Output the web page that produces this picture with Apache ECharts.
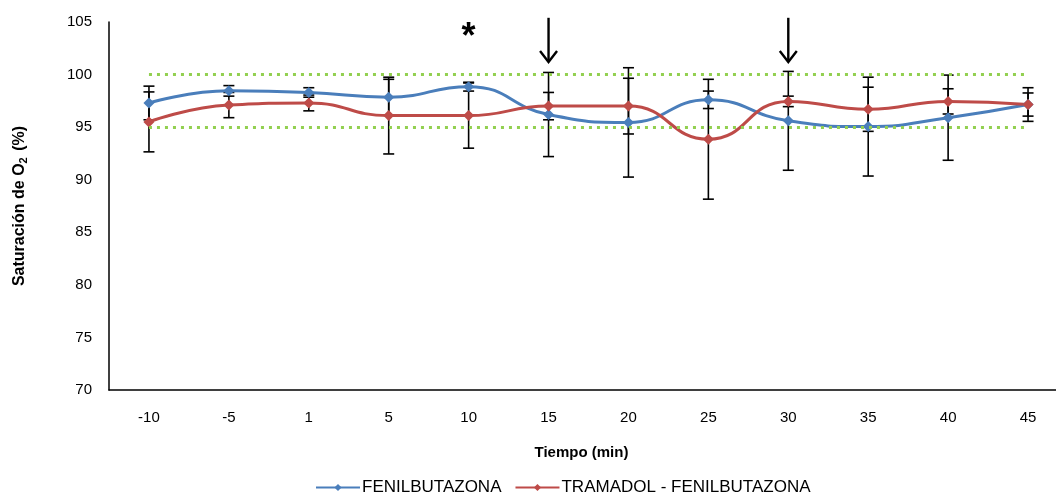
<!DOCTYPE html>
<html>
<head>
<meta charset="utf-8">
<script src="https://cdn.jsdelivr.net/npm/echarts@6/dist/echarts.min.js"></script>
<style>
  html, body { margin: 0; padding: 0; background: #fff; }
  #chart { width: 1056px; height: 502px; }
</style>
</head>
<body>
<div id="chart"></div>
<script>
// tiempo (min)
var categories = ["-10", "-5", "1", "5", "10", "15", "20", "25", "30", "35", "40", "45"];

// saturacion O2 (%) and standard deviations
var fenil = [97.3, 98.45, 98.3, 97.85, 98.85, 96.2, 95.45, 97.6, 95.6, 95.05, 95.9, 97.15];
var fenilSd = [1.6, 0.5, 0.45, 1.7, 0.42, 4.0, 5.2, 0.83, 4.7, 4.7, 4.05, 1.1];
var tramadol = [95.5, 97.1, 97.3, 96.1, 96.1, 97.0, 97.0, 93.85, 97.45, 96.7, 97.45, 97.15];
var tramadolSd = [2.85, 1.2, 0.75, 3.65, 3.1, 1.3, 2.65, 5.7, 0.5, 2.1, 1.2, 1.6];

// normal range limits (green dotted lines)
var refLines = [95, 100];

// annotations
var arrowTimes = ["15", "30"];
var arrowFrom = 105.4;
var arrowTo = 101.2;
var starTimes = ["10"];
var starLevel = 103.5;

var yTicks = { min: 70, max: 105, interval: 5 };

var blue = "#4a7ebb";
var red = "#be4b48";
var font = "Liberation Sans, Arial, sans-serif";

function errData(vals, sds) {
  return vals.map(function (v, i) {
    return [i, v - sds[i], v + sds[i]];
  });
}

function renderErr(params, api) {
  var lo = api.coord([api.value(0), api.value(1)]);
  var hi = api.coord([api.value(0), api.value(2)]);
  var w = 5.5;
  var style = { stroke: "#000", lineWidth: 1.6, fill: null };
  return {
    type: "group",
    children: [
      { type: "line", shape: { x1: lo[0], y1: lo[1], x2: hi[0], y2: hi[1] }, style: style },
      { type: "line", shape: { x1: lo[0] - w, y1: lo[1], x2: lo[0] + w, y2: lo[1] }, style: style },
      { type: "line", shape: { x1: hi[0] - w, y1: hi[1], x2: hi[0] + w, y2: hi[1] }, style: style },
    ],
  };
}

function refMark(v) {
  return [{ coord: [categories[0], v] }, { coord: [categories[categories.length - 1], v] }];
}

var myChart = echarts.init(document.getElementById("chart"));

var option = {
  animation: false,
  textStyle: { fontFamily: font },
  grid: {
    left: 109,
    top: 22,
    width: 959,
    height: 368,
    outerBoundsMode: "none",
  },
  legend: {
    bottom: 1,
    left: 310,
    itemWidth: 44,
    itemHeight: 9,
    itemGap: 13,
    data: ["FENILBUTAZONA", "TRAMADOL - FENILBUTAZONA"],
    textStyle: { fontSize: 17, color: "#000", padding: [0, 0, 0, -3] },
  },
  xAxis: {
    type: "category",
    data: categories,
    boundaryGap: true,
    axisLine: { lineStyle: { color: "#000", width: 1.5 } },
    axisTick: { show: false },
    axisLabel: { color: "#000", fontSize: 15, margin: 20 },
    name: "Tiempo (min)",
    nameLocation: "middle",
    nameGap: 55,
    nameTextStyle: { fontWeight: "bold", fontSize: 15, color: "#000", padding: [0, 14, 0, 0] },
  },
  yAxis: {
    type: "value",
    min: yTicks.min,
    max: yTicks.max,
    interval: yTicks.interval,
    splitLine: { show: false },
    axisLine: { show: true, lineStyle: { color: "#000", width: 1.5 } },
    axisTick: { show: false },
    axisLabel: { color: "#000", fontSize: 15, margin: 17 },
    name: "Saturación de O{sub|2} (%)",
    nameLocation: "middle",
    nameGap: 80,
    nameTextStyle: {
      fontWeight: "bold",
      fontSize: 16,
      color: "#000",
      rich: {
        sub: { fontSize: 11, fontWeight: "bold", verticalAlign: "bottom", padding: [7, 2, 0, 0] },
      },
    },
  },
  series: [
    {
      name: "limits",
      type: "line",
      data: [],
      silent: true,
      markLine: {
        silent: true,
        symbol: ["none", "none"],
        label: { show: false },
        lineStyle: { color: "#92d050", width: 3.2, type: [3, 5] },
        data: refLines.map(refMark),
      },
    },
    {
      name: "errFenil",
      type: "custom",
      data: errData(fenil, fenilSd),
      renderItem: renderErr,
      z: 3,
      silent: true,
    },
    {
      name: "errTramadol",
      type: "custom",
      data: errData(tramadol, tramadolSd),
      renderItem: renderErr,
      z: 3,
      silent: true,
    },
    {
      name: "FENILBUTAZONA",
      type: "line",
      data: fenil,
      smooth: 0.5,
      symbol: "diamond",
      symbolSize: 11,
      color: blue,
      lineStyle: { width: 3 },
      z: 4,
    },
    {
      name: "TRAMADOL - FENILBUTAZONA",
      type: "line",
      data: tramadol,
      smooth: 0.5,
      symbol: "diamond",
      symbolSize: 11,
      color: red,
      lineStyle: { width: 3 },
      z: 4,
    },
    {
      name: "arrows",
      type: "custom",
      clip: false,
      silent: true,
      data: arrowTimes.map(function (t) {
        return [t, arrowFrom, arrowTo];
      }),
      renderItem: function (params, api) {
        var a = api.coord([api.value(0), api.value(1)]);
        var b = api.coord([api.value(0), api.value(2)]);
        var style = { stroke: "#000", lineWidth: 2.4, fill: null };
        return {
          type: "group",
          children: [
            { type: "line", shape: { x1: a[0], y1: a[1], x2: b[0], y2: b[1] }, style: style },
            {
              type: "polyline",
              shape: { points: [[b[0] - 8.5, b[1] - 11], [b[0], b[1]], [b[0] + 8.5, b[1] - 11]] },
              style: style,
            },
          ],
        };
      },
    },
    {
      name: "stars",
      type: "custom",
      clip: false,
      silent: true,
      data: starTimes.map(function (t) {
        return [t, starLevel];
      }),
      renderItem: function (params, api) {
        var p = api.coord([api.value(0), api.value(1)]);
        return {
          type: "text",
          x: p[0],
          y: p[1],
          style: {
            text: "*",
            fontSize: 36,
            fontWeight: "bold",
            fill: "#000",
            align: "center",
            verticalAlign: "middle",
            fontFamily: font,
          },
        };
      },
    },
  ],
};

myChart.setOption(option);
</script>
</body>
</html>
